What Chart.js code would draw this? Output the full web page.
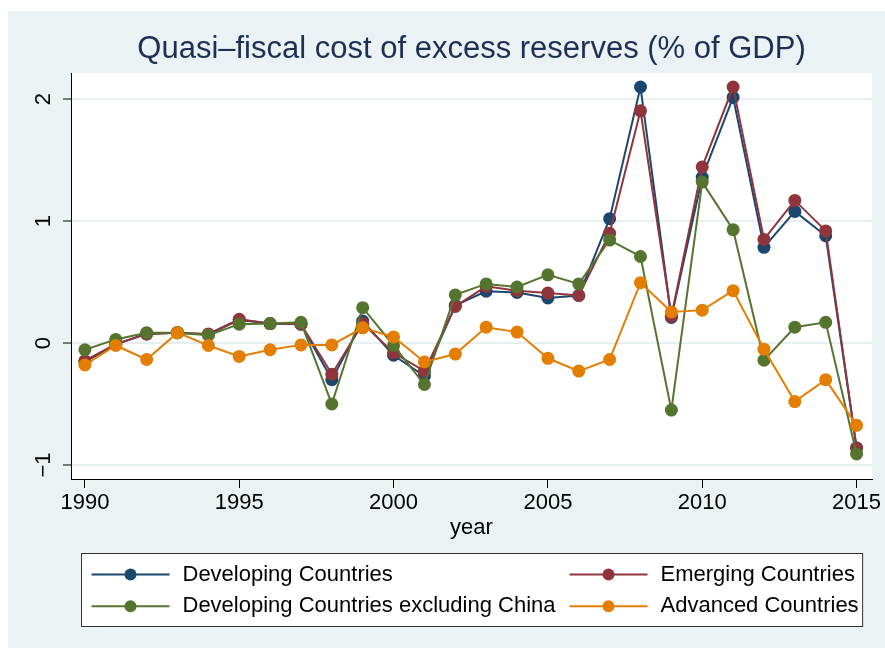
<!DOCTYPE html>
<html>
<head>
<meta charset="utf-8">
<title>Quasi-fiscal cost of excess reserves</title>
<script src="https://cdn.jsdelivr.net/npm/chart.js@4/dist/chart.umd.min.js"></script>
<style>
  html, body { margin: 0; padding: 0; background: #ffffff; }
  #wrap { width: 885px; height: 648px; }
</style>
</head>
<body>
<div id="wrap"><canvas id="costChart" width="885" height="648"></canvas></div>
<script>
// ข้อมูลต้นทุนกึ่งการคลัง (% ของ GDP) รายปี
const years = [1990, 1991, 1992, 1993, 1994, 1995, 1996, 1997, 1998, 1999, 2000, 2001, 2002,
               2003, 2004, 2005, 2006, 2007, 2008, 2009, 2010, 2011, 2012, 2013, 2014, 2015];

const developing = [-0.155, -0.01, 0.075, 0.085, 0.07, 0.19, 0.16, 0.155, -0.30, 0.18, -0.10, -0.27, 0.31,
                    0.425, 0.415, 0.37, 0.39, 1.02, 2.10, 0.21, 1.36, 2.015, 0.785, 1.08, 0.88, -0.86];
const emerging = [-0.145, -0.01, 0.075, 0.085, 0.075, 0.195, 0.16, 0.155, -0.255, 0.16, -0.08, -0.23, 0.30,
                  0.465, 0.43, 0.41, 0.39, 0.90, 1.905, 0.22, 1.445, 2.10, 0.85, 1.17, 0.92, -0.86];
const exChina = [-0.055, 0.03, 0.085, 0.085, 0.065, 0.155, 0.16, 0.17, -0.50, 0.29, -0.02, -0.34, 0.395,
                 0.485, 0.46, 0.56, 0.485, 0.845, 0.71, -0.55, 1.32, 0.93, -0.14, 0.13, 0.17, -0.91];
const advanced = [-0.18, -0.02, -0.135, 0.085, -0.02, -0.11, -0.055, -0.015, -0.015, 0.125, 0.05, -0.155, -0.09,
                  0.13, 0.09, -0.125, -0.23, -0.135, 0.495, 0.255, 0.27, 0.43, -0.05, -0.48, -0.30, -0.675];

const seriesNames = ['Developing Countries', 'Emerging Countries',
                     'Developing Countries excluding China', 'Advanced Countries'];
const seriesColors = ['#1A476F', '#90353B', '#55752F', '#E37E00'];

const xTicks = [1990, 1995, 2000, 2005, 2010, 2015];
const yTicks = [-1, 0, 1, 2];
const yTickLabels = ['\u22121', '0', '1', '2'];

const FONT = "'Liberation Sans', Arial, sans-serif";
const BG = '#EAF2F3';

Chart.defaults.font.family = FONT;
Chart.defaults.color = '#000000';

// พื้นหลังกราฟ + พื้นที่พล็อตสีขาว
const backdropPlugin = {
    id: 'backdrop',
    beforeDraw(chart) {
        const { ctx, chartArea: a } = chart;
        ctx.save();
        ctx.fillStyle = '#ffffff';
        ctx.fillRect(0, 0, chart.width, chart.height);
        ctx.fillStyle = BG;
        ctx.fillRect(8, 11, chart.width - 8, chart.height - 11);
        ctx.fillStyle = '#ffffff';
        ctx.fillRect(a.left, a.top, a.right - a.left, a.bottom - a.top);
        ctx.restore();
    }
};

// คำอธิบายสัญลักษณ์แบบกล่อง 2 คอลัมน์ ใต้แกน x
const boxLegendPlugin = {
    id: 'boxLegend',
    afterDraw(chart) {
        const { ctx, chartArea: a } = chart;
        const sets = chart.data.datasets;
        const keyW = 78, keyGap = 13, colGap = 14, padL = 10, padR = 4;
        ctx.save();
        ctx.font = '22px ' + FONT;
        const w = sets.map(d => ctx.measureText(d.label).width);
        const col1 = keyW + keyGap + Math.max(w[0], w[2]);
        const col2 = keyW + keyGap + Math.max(w[1], w[3]);
        const boxW = padL + col1 + colGap + col2 + padR;
        const boxX = Math.round((a.left + a.right) / 2 - boxW / 2) + 0.5;
        const boxY = chart.scales.x.bottom + 10.5;
        const boxH = 73;

        ctx.fillStyle = '#ffffff';
        ctx.fillRect(boxX, boxY, boxW, boxH);
        ctx.strokeStyle = '#333333';
        ctx.lineWidth = 1;
        ctx.strokeRect(boxX, boxY, boxW, boxH);

        sets.forEach((d, i) => {
            const row = Math.floor(i / 2), col = i % 2;
            const kx = boxX + padL + (col ? col1 + colGap : 0);
            const ky = boxY + 21 + row * 31.7;
            ctx.strokeStyle = d.borderColor;
            ctx.lineWidth = 2;
            ctx.beginPath();
            ctx.moveTo(kx, ky);
            ctx.lineTo(kx + keyW, ky);
            ctx.stroke();
            ctx.fillStyle = d.borderColor;
            ctx.beginPath();
            ctx.arc(kx + keyW / 2, ky, 6, 0, Math.PI * 2);
            ctx.fill();
            ctx.fillStyle = '#000000';
            ctx.textAlign = 'left';
            ctx.textBaseline = 'middle';
            ctx.fillText(d.label, kx + keyW + keyGap, ky);
        });
        ctx.restore();
    }
};

const datasets = seriesNames.map((name, i) => {
    const vals = [developing, emerging, exChina, advanced][i];
    return {
        label: name,
        data: years.map((yr, j) => ({ x: yr, y: vals[j] })),
        borderColor: seriesColors[i],
        backgroundColor: seriesColors[i],
        pointBackgroundColor: seriesColors[i],
        borderWidth: 2,
        pointRadius: 6.5,
        pointBorderWidth: 0,
        pointHoverRadius: 6.5,
        tension: 0,
        order: seriesNames.length - i   // ส้มวาดทับบนสุด
    };
});

new Chart(document.getElementById('costChart'), {
    type: 'line',
    data: { datasets },
    options: {
        responsive: false,
        animation: false,
        devicePixelRatio: 1,
        layout: { padding: { left: 8, top: 11, right: 13, bottom: 105 } },
        plugins: {
            legend: { display: false },
            tooltip: { enabled: false },
            title: {
                display: true,
                fullSize: false,   // จัดกึ่งกลางเหนือพื้นที่พล็อต
                text: 'Quasi\u2013fiscal cost of excess reserves (% of GDP)',
                color: '#1F2E55',
                font: { size: 31, weight: 'normal', family: FONT },
                padding: { top: 19.4, bottom: 5.4 }
            }
        },
        scales: {
            x: {
                type: 'linear',
                min: 1989.55,
                max: 2015.5,
                afterBuildTicks: s => { s.ticks = xTicks.map(v => ({ value: v })); },
                afterFit: s => { s.height = 64; s.paddingLeft = 0; s.paddingRight = 0; },
                ticks: {
                    font: { size: 22 },
                    color: '#000000',
                    padding: 2,
                    maxRotation: 0,
                    callback: v => String(v)
                },
                grid: { drawOnChartArea: false, drawTicks: true, tickLength: 9, tickColor: '#000000', tickWidth: 1 },
                border: { display: true, color: '#000000', width: 1 },
                title: {
                    display: true,
                    text: 'year',
                    color: '#000000',
                    font: { size: 22 },
                    padding: { top: 0, bottom: 2 }
                }
            },
            y: {
                min: -1.115,
                max: 2.215,
                afterBuildTicks: s => { s.ticks = yTicks.map(v => ({ value: v })); },
                afterFit: s => { s.width = 63; s.paddingTop = 0; s.paddingBottom = 0; },
                ticks: {
                    font: { size: 22 },
                    color: '#000000',
                    padding: 7,
                    minRotation: 90,
                    maxRotation: 90,
                    crossAlign: 'center',
                    callback: v => yTickLabels[yTicks.indexOf(v)]
                },
                grid: { color: '#E6EFF1', lineWidth: 2, drawTicks: true, tickLength: 8, tickColor: '#000000', tickWidth: 1 },
                border: { display: true, color: '#000000', width: 1 }
            }
        }
    },
    plugins: [backdropPlugin, boxLegendPlugin]
});
</script>
</body>
</html>
